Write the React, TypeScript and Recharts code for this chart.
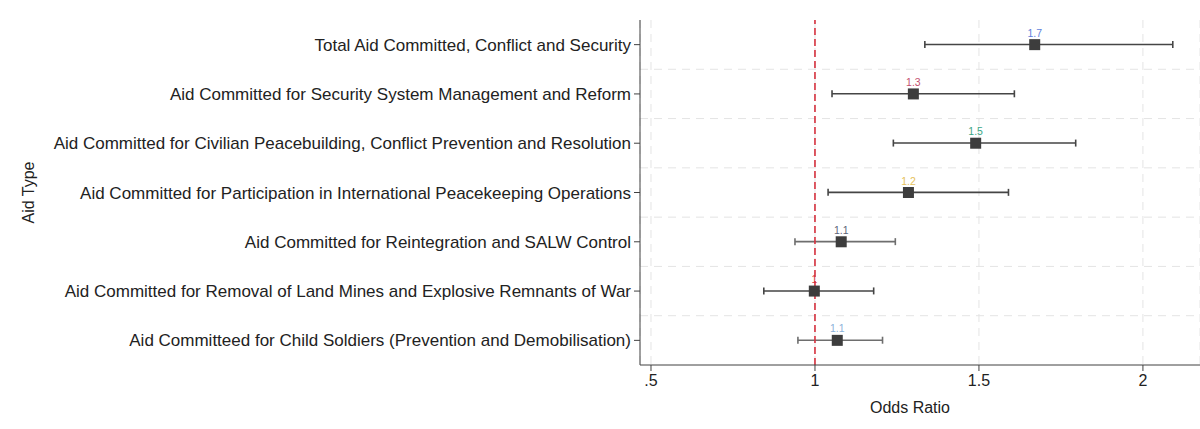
import {
  Bar,
  CartesianGrid,
  ComposedChart,
  LabelList,
  Line,
  ReferenceLine,
  XAxis,
  YAxis,
} from "recharts";

const categories = [
  "Total Aid Committed, Conflict and Security",
  "Aid Committed for Security System Management and Reform",
  "Aid Committed for Civilian Peacebuilding, Conflict Prevention and Resolution",
  "Aid Committed for Participation in International Peacekeeping Operations",
  "Aid Committed for Reintegration and SALW Control",
  "Aid Committed for Removal of Land Mines and Explosive Remnants of War",
  "Aid Committeed for Child Soldiers (Prevention and Demobilisation)",
];
const oddsRatio = [1.67, 1.3, 1.49, 1.285, 1.08, 0.998, 1.068];
const ciLow = [1.335, 1.052, 1.239, 1.04, 0.939, 0.844, 0.948];
const ciHigh = [2.091, 1.608, 1.795, 1.59, 1.245, 1.179, 1.206];
const pointLabels = ["1.7", "1.3", "1.5", "1.2", "1.1", "1", "1.1"];
const xTicks = [0.5, 1, 1.5, 2];

const labelColors = ["#5f7fdc", "#c4506e", "#3aa584", "#e6c25c", "#5c6478", "#d6313e", "#8cb2da"];
const ciColors = ["#454545", "#454545", "#454545", "#454545", "#6e6e6e", "#454545", "#6e6e6e"];

const rows = categories.map((name, i) => ({
  name,
  or: oddsRatio[i],
  ci: [ciLow[i], ciHigh[i]],
  label: pointLabels[i],
}));

const font = "'Liberation Sans', Arial, sans-serif";

function CiShape(props: any) {
  const { x, y, width, height, index } = props;
  const cy = y + height / 2;
  const color = ciColors[index] ?? "#454545";
  return (
    <g stroke={color} strokeWidth={1.6}>
      <line x1={x} y1={cy} x2={x + width} y2={cy} />
      <line x1={x} y1={y} x2={x} y2={y + height} />
      <line x1={x + width} y1={y} x2={x + width} y2={y + height} />
    </g>
  );
}

function SquareDot(props: any) {
  const { cx, cy } = props;
  if (cx == null || cy == null) return null;
  return <rect x={cx - 5.5} y={cy - 5.5} width={11} height={11} fill="#3d3d3d" />;
}

function PointLabel(props: any) {
  const { x, y, value, index } = props;
  return (
    <text
      x={x}
      y={y - 8}
      textAnchor="middle"
      fontSize={10.5}
      fontFamily={font}
      fill={labelColors[index]}
    >
      {value}
    </text>
  );
}

function AidTypeLabel(props: any) {
  const { viewBox } = props;
  const cy = viewBox.y + viewBox.height / 2;
  const cx = 28;
  return (
    <text
      x={cx}
      y={cy}
      transform={`rotate(-90 ${cx} ${cy})`}
      textAnchor="middle"
      dominantBaseline="central"
      fontSize={16}
      fontFamily={font}
      fill="#222"
    >
      Aid Type
    </text>
  );
}

export default function App() {
  return (
    <div style={{ width: 1200, height: 429, background: "#fff" }}>
      <style>{"body{margin:0}"}</style>
      <ComposedChart
        width={1200}
        height={429}
        data={rows}
        layout="vertical"
        margin={{ top: 20, right: 0, bottom: 0, left: 0 }}
      >
        <CartesianGrid
          stroke="#e4e4e4"
          strokeDasharray="8 6"
          horizontalCoordinatesGenerator={({ offset }: any) =>
            [1, 2, 3, 4, 5, 6].map((i) => offset.top + (offset.height * i) / categories.length)
          }
        />
        <XAxis
          type="number"
          domain={[0.4665, 2.174]}
          allowDataOverflow
          ticks={xTicks}
          tickFormatter={(v: number) => (v === 0.5 ? ".5" : String(v))}
          height={64}
          stroke="#404040"
          tickSize={6}
          tickMargin={4}
          tick={{ fontSize: 16, fill: "#222", fontFamily: font }}
          label={{
            value: "Odds Ratio",
            position: "insideBottom",
            offset: 16,
            dx: -10,
            fontSize: 16,
            fill: "#222",
            fontFamily: font,
          }}
        />
        <YAxis
          type="category"
          dataKey="name"
          width={640}
          stroke="#404040"
          tickSize={6}
          tickMargin={3}
          interval={0}
          tick={{ fontSize: 17, fill: "#222", fontFamily: font }}
          label={<AidTypeLabel />}
        />
        <ReferenceLine x={1} stroke="#d6313e" strokeWidth={1.6} strokeDasharray="7 4" />
        <Bar dataKey="ci" barSize={7} shape={<CiShape />} isAnimationActive={false} />
        <Line
          dataKey="or"
          stroke="none"
          dot={<SquareDot />}
          activeDot={false}
          isAnimationActive={false}
        >
          <LabelList dataKey="label" content={<PointLabel />} />
        </Line>
      </ComposedChart>
    </div>
  );
}
